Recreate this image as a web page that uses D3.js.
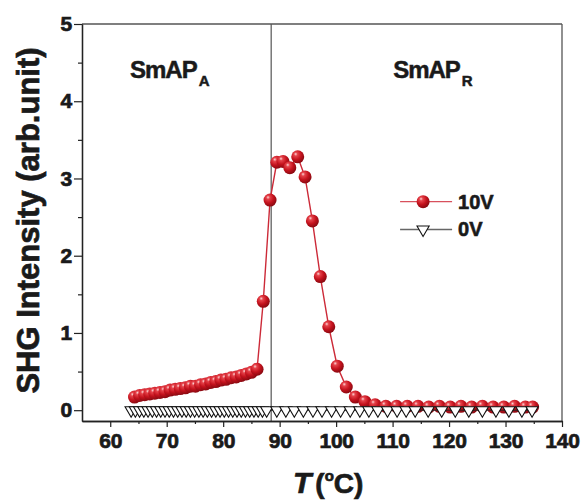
<!DOCTYPE html>
<html>
<head>
<meta charset="utf-8">
<script src="https://cdn.jsdelivr.net/npm/d3@7"></script>
<style>
  html, body { margin: 0; padding: 0; background: #fff; }
  svg { display: block; }
  text { font-family: "Liberation Sans", Arial, sans-serif; font-weight: bold; fill: #1a1a1a; }
</style>
</head>
<body>
<svg id="chart" width="582" height="500"></svg>
<script>
// SHG intensity versus temperature, measured with 10 V applied and with no field
const temp10V = [
  64.3, 65.2, 66.1, 67.0, 67.9, 68.8, 69.7, 70.6, 71.5, 72.4, 73.3, 74.2, 75.1,
  76.0, 76.9, 77.8, 78.7, 79.6, 80.5, 81.4, 82.3, 83.2, 84.1, 85.0, 86.0,
  87.1, 88.3, 89.5, 90.6, 91.8, 93.2, 94.5, 95.8, 97.2, 98.7, 100.2, 101.8,
  103.4, 105.1, 106.9, 108.8, 110.7, 112.6, 114.5, 116.4, 118.3, 120.2, 122.1,
  124.0, 125.9, 127.8, 129.7, 131.6, 133.5, 134.8
];
const shg10V = [
  0.17, 0.19, 0.20, 0.21, 0.22, 0.23, 0.24, 0.26, 0.27, 0.28, 0.29, 0.31, 0.31,
  0.33, 0.34, 0.36, 0.37, 0.39, 0.40, 0.42, 0.43, 0.45, 0.47, 0.49, 0.53,
  1.41, 2.72, 3.21, 3.22, 3.14, 3.28, 3.02, 2.45, 1.73, 1.08, 0.57, 0.30,
  0.17, 0.11, 0.07, 0.05, 0.05, 0.05, 0.05, 0.04, 0.05, 0.04, 0.05,
  0.04, 0.05, 0.04, 0.04, 0.05, 0.04, 0.04
];
const temp0V = [
  63.7, 64.45, 65.2, 65.95, 66.7, 67.45, 68.2, 68.95, 69.7, 70.45, 71.2, 71.95,
  72.7, 73.45, 74.2, 74.95, 75.7, 76.45, 77.2, 77.95, 78.7, 79.45, 80.2, 80.95,
  81.7, 82.45, 83.2, 83.95, 84.7, 85.45, 86.2, 86.95, 87.7,
  89.5, 91.1, 92.6, 94.2, 95.9, 97.5, 99.2, 100.8, 102.5, 104.2, 105.8, 107.4,
  109.1, 110.8, 112.4, 114.0, 116.3, 118.7, 121.1, 123.5, 125.9, 128.3, 130.6,
  132.9, 134.7
];
const shg0V = [
  0, 0, 0, 0, 0, 0, 0, 0, 0, 0, 0, 0,
  0, 0, 0, 0, 0, 0, 0, 0, 0, 0, 0, 0,
  0, 0, 0, 0, 0, 0, 0, 0, 0,
  0, 0, 0, 0, 0, 0, 0, 0, 0, 0, 0, 0,
  0, 0, 0, 0, 0, 0, 0, 0, 0, 0, 0,
  0, 0
];

const xTicks = [60, 70, 80, 90, 100, 110, 120, 130, 140];
const xMinorTicks = [65, 75, 85, 95, 105, 115, 125, 135];
const yTicks = [0, 1, 2, 3, 4, 5];
const yMinorTicks = [0.5, 1.5, 2.5, 3.5, 4.5];
const phaseBoundary = 88.5;
const phaseLabels = [
  { name: "SmAP", sub: "A", t: 63.5 },
  { name: "SmAP", sub: "R", t: 110.1 }
];
const legendItems = ["10V", "0V"];

const svg = d3.select("#chart");
const W = 582, H = 500;
const margin = { top: 24, right: 20, bottom: 79, left: 82 };
const plotW = W - margin.left - margin.right;
const plotH = H - margin.top - margin.bottom;

const x = d3.scaleLinear().domain([55, 140]).range([margin.left, margin.left + plotW]);
const y = d3.scaleLinear().domain([-0.14, 5]).range([margin.top + plotH, margin.top]);

// glossy sphere fill for the 10V markers
const defs = svg.append("defs");
const grad = defs.append("radialGradient")
  .attr("id", "sphere").attr("cx", "38%").attr("cy", "34%").attr("r", "65%")
  .attr("fx", "34%").attr("fy", "28%");
grad.append("stop").attr("offset", "0%").attr("stop-color", "#fbd6d6");
grad.append("stop").attr("offset", "22%").attr("stop-color", "#e5424a");
grad.append("stop").attr("offset", "62%").attr("stop-color", "#c4121d");
grad.append("stop").attr("offset", "100%").attr("stop-color", "#8c0a12");

// frame: top and right edges
svg.append("line")
  .attr("x1", x(55)).attr("x2", x(140)).attr("y1", y(5)).attr("y2", y(5))
  .attr("stroke", "#555").attr("stroke-width", 1.3);
svg.append("line")
  .attr("x1", x(140)).attr("x2", x(140)).attr("y1", y(5)).attr("y2", y(-0.14))
  .attr("stroke", "#555").attr("stroke-width", 1.3);

// phase boundary
svg.append("line")
  .attr("x1", x(phaseBoundary)).attr("x2", x(phaseBoundary))
  .attr("y1", y(5)).attr("y2", y(-0.14))
  .attr("stroke", "#555").attr("stroke-width", 1.2);

// axes
function styleAxis(g) {
  g.selectAll("path.domain").attr("stroke", "#222").attr("stroke-width", 1.3);
  g.selectAll(".tick line").attr("stroke", "#222").attr("stroke-width", 1.2);
  g.selectAll("text").attr("font-size", 21).attr("font-family", "Liberation Sans, Arial, sans-serif")
    .attr("font-weight", "bold").attr("fill", "#1a1a1a").attr("letter-spacing", "-0.2")
    .attr("stroke", "#1a1a1a").attr("stroke-width", 0.7);
}
const xAxis = svg.append("g").attr("transform", `translate(0,${y(-0.14)})`)
  .call(d3.axisBottom(x).tickValues(xTicks).tickSize(6).tickSizeOuter(0).tickPadding(6).tickFormat(d3.format("d")));
styleAxis(xAxis);
const xMinor = svg.append("g").attr("transform", `translate(0,${y(-0.14)})`)
  .call(d3.axisBottom(x).tickValues(xMinorTicks).tickSize(3).tickSizeOuter(0).tickFormat(""));
styleAxis(xMinor);
const yAxis = svg.append("g").attr("transform", `translate(${x(55)},0)`)
  .call(d3.axisLeft(y).tickValues(yTicks).tickSize(8).tickSizeOuter(0).tickPadding(2).tickFormat(d3.format("d")));
styleAxis(yAxis);
const yMinor = svg.append("g").attr("transform", `translate(${x(55)},0)`)
  .call(d3.axisLeft(y).tickValues(yMinorTicks).tickSize(4).tickSizeOuter(0).tickFormat(""));
styleAxis(yMinor);

// axis titles
svg.append("text")
  .attr("transform", `translate(39,${(y(5) + y(-0.14)) / 2 - 2}) rotate(-90)`)
  .attr("text-anchor", "middle").attr("font-size", 31)
  .attr("stroke", "#1a1a1a").attr("stroke-width", 0.7)
  .text("SHG Intensity (arb.unit)");
const xt = svg.append("text").attr("x", 293).attr("y", 493).attr("font-size", 30)
  .attr("stroke", "#1a1a1a").attr("stroke-width", 0.7);
xt.append("tspan").attr("font-style", "italic").text("T");
xt.append("tspan").attr("dx", 4).attr("font-size", 28).text("(");
xt.append("tspan").attr("font-size", 15).attr("dy", -12).text("o");
xt.append("tspan").attr("font-size", 28).attr("dy", 12).text("C");
xt.append("tspan").attr("font-size", 28).text(")");

// phase labels
phaseLabels.forEach(p => {
  const t = svg.append("text").attr("x", x(p.t)).attr("y", y(4.3)).attr("font-size", 24)
    .attr("letter-spacing", "-1").attr("stroke", "#1a1a1a").attr("stroke-width", 0.5);
  t.append("tspan").text(p.name);
  t.append("tspan").attr("font-size", 15).attr("dx", 2).attr("dy", 8).attr("letter-spacing", "0").text(p.sub);
});

// 10V series
const pts10 = temp10V.map((t, i) => [t, shg10V[i]]);
const pts0 = temp0V.map((t, i) => [t, shg0V[i]]);
const line = d3.line().x(d => x(d[0])).y(d => y(d[1]));

svg.append("path").datum(pts10).attr("d", line)
  .attr("fill", "none").attr("stroke", "#cc2a38").attr("stroke-width", 1.4);
svg.append("g").selectAll("circle").data(pts10).join("circle")
  .attr("cx", d => x(d[0])).attr("cy", d => y(d[1])).attr("r", 6.5)
  .attr("fill", "url(#sphere)");

// 0V series
svg.append("path").datum(pts0).attr("d", line)
  .attr("fill", "none").attr("stroke", "#222").attr("stroke-width", 1);
const tri = d3.symbol(d3.symbolTriangle, 64);
svg.append("g").selectAll("path").data(pts0).join("path")
  .attr("d", tri)
  .attr("transform", d => `translate(${x(d[0])},${y(d[1])}) rotate(180)`)
  .attr("fill", "#fff").attr("stroke", "#111").attr("stroke-width", 1.1);

// legend
const legX = x(115.4), legY = [y(2.7), y(2.34)];
legendItems.forEach((name, i) => {
  const g = svg.append("g");
  g.append("line").attr("x1", legX - 23).attr("x2", legX + 29).attr("y1", legY[i]).attr("y2", legY[i])
    .attr("stroke", i === 0 ? "#d8505c" : "#666").attr("stroke-width", 1.4);
  if (i === 0) {
    g.append("circle").attr("cx", legX).attr("cy", legY[i]).attr("r", 6.5).attr("fill", "url(#sphere)");
  } else {
    g.append("path").attr("d", tri).attr("transform", `translate(${legX},${legY[i]}) rotate(180)`)
      .attr("fill", "#fff").attr("stroke", "#111").attr("stroke-width", 1.1);
  }
  g.append("text").attr("x", legX + 35).attr("y", legY[i] + 7).attr("font-size", 20)
    .attr("stroke", "#1a1a1a").attr("stroke-width", 0.6).text(name);
});
</script>
</body>
</html>
